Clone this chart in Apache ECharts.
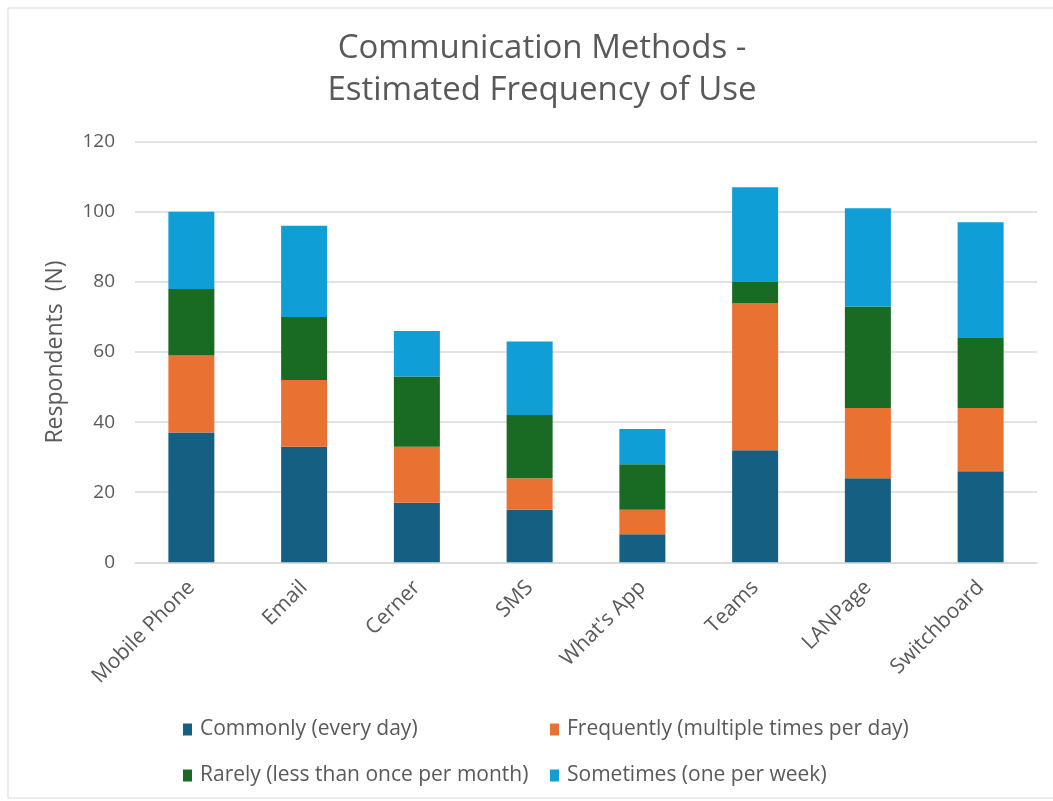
<!DOCTYPE html>
<html>
<head>
<meta charset="utf-8">
<script src="https://cdn.jsdelivr.net/npm/echarts@6/dist/echarts.min.js"></script>
<style>html,body{margin:0;padding:0;background:#fff;}#c{width:1053px;height:801px;}</style>
</head>
<body>
<div id="c"></div>
<script>
const categories = ['Mobile Phone','Email','Cerner','SMS',"What's App",'Teams','LANPage','Switchboard'];
const commonly   = [37, 33, 17, 15, 8, 32, 24, 26];
const frequently = [22, 19, 16, 9, 7, 42, 20, 18];
const rarely     = [19, 18, 20, 18, 13, 6, 29, 20];
const sometimes  = [22, 26, 13, 21, 10, 27, 28, 33];
const seriesNames = ['Commonly (every day)','Frequently (multiple times per day)','Rarely (less than once per month)','Sometimes (one per week)'];
const yTicks = {min:0, max:120, interval:20};

const colors = ['#156082','#E97132','#196B24','#0F9ED5'];
const FONT = '"Open Sans", sans-serif';
const TXT = '#595959';

const chart = echarts.init(document.getElementById('c'), null, {renderer:'canvas'});
const dataSets = [commonly, frequently, rarely, sometimes];
const legendPos = [
  {left:178, top:714},
  {left:545, top:714},
  {left:178, top:760},
  {left:545, top:760}
];
chart.setOption({
  animation:false,
  backgroundColor:'#fff',
  color: colors,
  title:{
    text:'Communication Methods -\nEstimated Frequency of Use',
    left:537, textAlign:'center', top:23,
    textStyle:{fontFamily:FONT, fontSize:33, fontWeight:'normal', color:TXT, lineHeight:42}
  },
  graphic:[{type:'rect', shape:{x:8,y:8,width:1060,height:790}, style:{fill:'none', stroke:'#d9d9d9', lineWidth:1}, silent:true}],
  legend: seriesNames.map((n,i)=>({
    data:[n], left:legendPos[i].left, top:legendPos[i].top,
    itemWidth:9, itemHeight:12, icon:'rect',
    textStyle:{fontFamily:FONT, fontSize:21, color:TXT, padding:[0,0,0,3]}
  })),
  grid:{left:135, right:16, top:141.7, bottom:238.7},
  xAxis:{
    type:'category', data:categories,
    axisLine:{lineStyle:{color:'#d9d9d9', width:1.5}},
    axisTick:{show:false},
    axisLabel:{rotate:45, margin:22, fontFamily:FONT, fontSize:21, color:TXT}
  },
  yAxis:{
    type:'value', min:yTicks.min, max:yTicks.max, interval:yTicks.interval,
    name:'Respondents  (N)', nameLocation:'middle', nameGap:68, nameRotate:90,
    nameTextStyle:{fontFamily:FONT, fontSize:23, color:TXT},
    axisLine:{show:false}, axisTick:{show:false},
    axisLabel:{margin:20, fontFamily:FONT, fontSize:19, color:TXT},
    splitLine:{lineStyle:{color:'#d9d9d9', width:1.5}}
  },
  series: dataSets.map((d,i)=>({
    name:seriesNames[i], type:'bar', stack:'total', data:d, barWidth:46,
    itemStyle:{color:colors[i]}
  }))
});
</script>
</body>
</html>
